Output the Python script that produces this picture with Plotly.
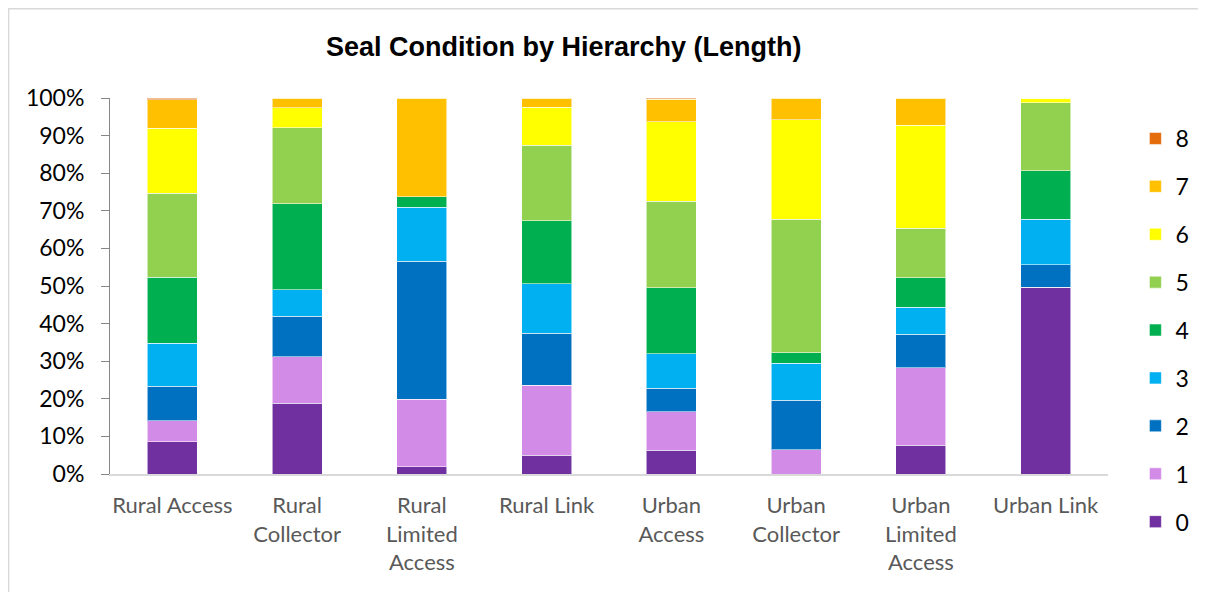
import plotly.graph_objects as go

categories = ["Rural Access", "Rural<br>Collector", "Rural<br>Limited<br>Access", "Rural Link",
              "Urban<br>Access", "Urban<br>Collector", "Urban<br>Limited<br>Access", "Urban Link"]

cond_0 = [8.6, 18.8, 1.9, 5.0, 6.3, 0.0, 7.6, 49.7]
cond_1 = [5.6, 12.4, 18.0, 18.6, 10.3, 6.5, 20.7, 0.0]
cond_2 = [9.2, 10.7, 36.7, 13.8, 6.2, 13.1, 8.9, 6.0]
cond_3 = [11.4, 7.1, 14.3, 13.2, 9.2, 9.9, 7.2, 12.1]
cond_4 = [17.5, 22.9, 2.8, 16.8, 17.6, 2.7, 7.8, 12.9]
cond_5 = [22.4, 20.2, 0.0, 20.0, 23.0, 35.6, 13.1, 18.0]
cond_6 = [17.3, 5.3, 0.0, 10.2, 21.1, 26.4, 27.5, 1.3]
cond_7 = [7.6, 2.6, 26.3, 2.4, 6.0, 5.8, 7.2, 0.0]
cond_8 = [0.4, 0.0, 0.0, 0.0, 0.3, 0.0, 0.0, 0.0]

series_names = ["0", "1", "2", "3", "4", "5", "6", "7", "8"]
series_values = [cond_0, cond_1, cond_2, cond_3, cond_4, cond_5, cond_6, cond_7, cond_8]
colors = ["#7030A0", "#D28CE8", "#0070C0", "#00B0F0", "#00B050",
          "#92D050", "#FFFF00", "#FFC000", "#E46C0A"]

OFF = 8  # page body margin
W, H = 1198, 584
L, T = 102, 90
pw, ph = 997.6, 376.3
R = W - L - pw
B = H - T - ph


def px_x(p):
    return (p - OFF - L) / pw


def px_y(p):
    return (T + ph - (p - OFF)) / ph


fig = go.Figure()
n = len(series_names)
for i, (name, vals, col) in enumerate(zip(series_names, series_values, colors)):
    fig.add_trace(go.Bar(
        x=categories, y=vals, name=name, legendgroup=name, legendrank=n - i,
        marker=dict(color=col, line=dict(color="rgba(255,255,255,0.55)", width=1)),
    ))

fig.update_layout(
    width=W, height=H,
    margin=dict(l=L, r=R, t=T, b=B, autoexpand=False),
    barmode="stack", barnorm="percent", bargap=0.6,
    plot_bgcolor="white", paper_bgcolor="white",
    font=dict(family="Lato, Calibri, sans-serif", color="black"),
    showlegend=True,
    legend=dict(
        x=px_x(1135), y=px_y(117), xanchor="left", yanchor="top",
        traceorder="grouped", tracegroupgap=15, maxheight=560,
        font=dict(size=23, color="black", family="Lato, sans-serif"),
        bgcolor="rgba(0,0,0,0)",
    ),
    xaxis=dict(
        showline=True, linecolor="#D9D9D9", linewidth=1.5, ticks="",
        tickfont=dict(size=22, color="#595959", family="Lato, sans-serif"),
        ticklabelstandoff=11,
        showgrid=False, zeroline=False, tickangle=0,
    ),
    yaxis=dict(
        range=[0, 100], dtick=10, ticksuffix="%",
        showline=True, linecolor="#868686", linewidth=1,
        ticks="outside", ticklen=8, tickcolor="#868686",
        tickfont=dict(size=23, color="black", family="Lato, sans-serif"),
        ticklabelstandoff=12,
        showgrid=False, zeroline=False,
    ),
    annotations=[dict(
        text="<b>Seal Condition by Hierarchy (Length)</b>",
        xref="paper", yref="paper", x=px_x(564), y=px_y(46.5),
        xanchor="center", yanchor="middle", showarrow=False,
        font=dict(size=27, color="black", family="Liberation Sans, Arial, sans-serif"),
    )],
    shapes=[dict(
        type="rect", xref="paper", yref="paper", layer="below",
        x0=px_x(8.7), x1=px_x(1215), y0=px_y(600), y1=px_y(8.7),
        line=dict(color="#D9D9D9", width=1.5), fillcolor="rgba(0,0,0,0)",
    )],
)

fig.write_html("out.html")
